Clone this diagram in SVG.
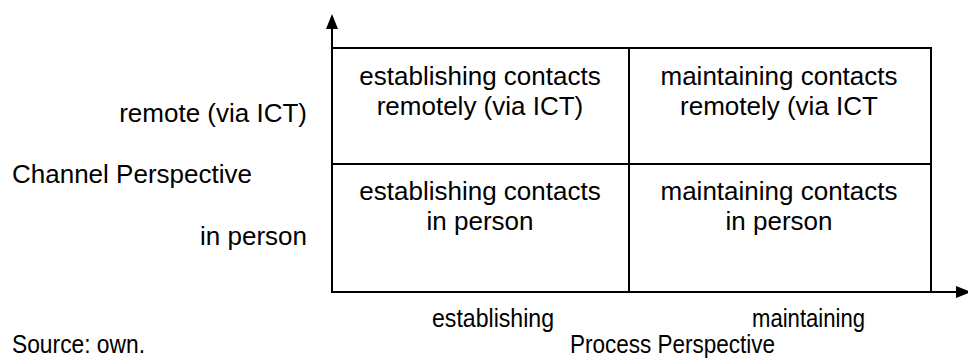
<svg xmlns="http://www.w3.org/2000/svg" width="968" height="360" viewBox="0 0 968 360">
  <style>
    .t { font-family: "Liberation Sans", Arial, sans-serif; font-size: 26px; fill: #000; }
    .c { text-anchor: middle; }
    .r { text-anchor: end; }
    .ln { stroke: #000; stroke-width: 2; fill: none; }
    .ax { stroke: #000; stroke-width: 2; fill: none; }
  </style>
  <defs>
    <!-- filled triangular arrowhead, starts where the line ends -->
    <marker id="ah" viewBox="0 0 15 12" refX="0" refY="6" markerWidth="15" markerHeight="12" markerUnits="userSpaceOnUse" orient="auto">
      <path d="M0,0 L15,6 L0,12 Z" fill="#000"/>
    </marker>
  </defs>

  <!-- axes -->
  <g id="connectors">
    <line class="ax" x1="332" y1="293" x2="332" y2="29" marker-end="url(#ah)"/>
    <line class="ax" x1="332" y1="292" x2="956" y2="292" marker-end="url(#ah)"/>
  </g>

  <!-- 2x2 matrix cells -->
  <g id="cell-establish-remote">
    <rect class="ln" x="332" y="48" width="297" height="116"/>
    <text class="t c" x="480" y="85">establishing contacts</text>
    <text class="t c" x="480" y="115">remotely (via ICT)</text>
  </g>
  <g id="cell-maintain-remote">
    <rect class="ln" x="629" y="48" width="302" height="116"/>
    <text class="t c" x="779" y="85">maintaining contacts</text>
    <text class="t c" x="779" y="115">remotely (via ICT</text>
  </g>
  <g id="cell-establish-person">
    <rect class="ln" x="332" y="164" width="297" height="128"/>
    <text class="t c" x="480" y="200">establishing contacts</text>
    <text class="t c" x="480" y="230">in person</text>
  </g>
  <g id="cell-maintain-person">
    <rect class="ln" x="629" y="164" width="302" height="128"/>
    <text class="t c" x="779" y="200">maintaining contacts</text>
    <text class="t c" x="779" y="230">in person</text>
  </g>

  <!-- channel axis labels -->
  <g id="channel-labels">
    <text class="t r" x="307" y="122">remote (via ICT)</text>
    <text class="t" x="12" y="183">Channel Perspective</text>
    <text class="t r" x="307" y="245">in person</text>
  </g>

  <!-- process axis labels -->
  <g id="process-labels">
    <text class="t" x="432" y="327" textLength="122" lengthAdjust="spacingAndGlyphs">establishing</text>
    <text class="t" x="752" y="327" textLength="113" lengthAdjust="spacingAndGlyphs">maintaining</text>
    <text class="t" x="570" y="353" textLength="205" lengthAdjust="spacingAndGlyphs">Process Perspective</text>
  </g>

  <g id="source">
    <text class="t" x="12" y="353" textLength="133" lengthAdjust="spacingAndGlyphs">Source: own.</text>
  </g>
</svg>
